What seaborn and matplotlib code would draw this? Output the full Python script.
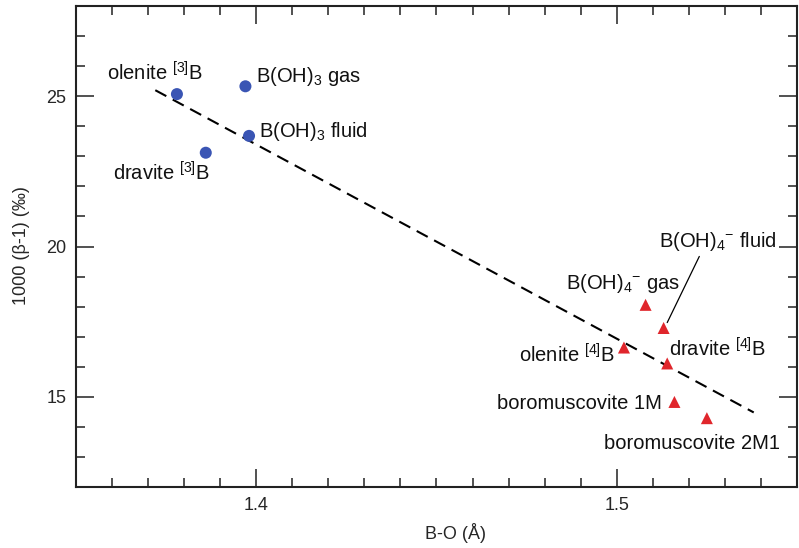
import matplotlib
matplotlib.use("Agg")
import matplotlib.pyplot as plt
from matplotlib.ticker import MultipleLocator, FixedLocator
import seaborn as sns
import pandas as pd

# ---- data ----
names = ["olenite [3]B", "B(OH)3 gas", "B(OH)3 fluid", "dravite [3]B",
         "B(OH)4- gas", "B(OH)4- fluid", "olenite [4]B", "dravite [4]B",
         "boromuscovite 1M", "boromuscovite 2M1"]
bo_length = [1.378, 1.397, 1.398, 1.386,
             1.508, 1.513, 1.502, 1.514, 1.516, 1.525]
frac = [25.07, 25.33, 23.68, 23.12,
        18.06, 17.29, 16.64, 16.11, 14.83, 14.29]
coord = ["[3]B", "[3]B", "[3]B", "[3]B",
         "[4]B", "[4]B", "[4]B", "[4]B", "[4]B", "[4]B"]

fit_x = [1.372, 1.538]
fit_y = [25.20, 14.48]

# label text (mathtext) and anchor (left-baseline) positions
label_text = [r"olenite $\mathregular{^{[3]}}$B",
              r"B(OH)$\mathregular{_3}$ gas",
              r"B(OH)$\mathregular{_3}$ fluid",
              r"dravite $\mathregular{^{[3]}}$B",
              r"B(OH)$\mathregular{_4}$$\mathregular{^{-}}$ gas",
              r"B(OH)$\mathregular{_4}$$\mathregular{^{-}}$ fluid",
              r"olenite $\mathregular{^{[4]}}$B",
              r"dravite $\mathregular{^{[4]}}$B",
              r"boromuscovite 1M",
              r"boromuscovite 2M1"]
label_x = [1.3586, 1.3999, 1.4007, 1.3602, 1.4860, 1.5118, 1.4728, 1.5145, 1.4667, 1.4965]
label_y = [25.51, 25.48, 23.64, 22.20, 18.59, 19.98, 16.14, 16.33, 14.59, 13.26]

leader_x = [1.5229, 1.5140]
leader_y = [19.67, 17.47]

df = pd.DataFrame({"name": names, "x": bo_length, "y": frac, "coord": coord})

# ---- style ----
sns.set_style("ticks")
plt.rcParams["font.family"] = ["Liberation Sans", "DejaVu Sans"]
plt.rcParams["mathtext.fontset"] = "custom"
plt.rcParams["mathtext.rm"] = "Liberation Sans"
plt.rcParams["mathtext.it"] = "Liberation Sans:italic"
plt.rcParams["mathtext.bf"] = "Liberation Sans:bold"

fig = plt.figure(figsize=(7.99, 5.48), dpi=100)
ax = fig.add_axes([0.0951, 0.1113, 0.9024, 0.8777])

# fit line
ax.plot(fit_x, fit_y, color="black", lw=1.5, ls=(0, (6, 3.5)), zorder=1)

sns.scatterplot(data=df, x="x", y="y", hue="coord", style="coord",
                palette={"[3]B": "#3a55b4", "[4]B": "#e0262c"},
                markers={"[3]B": "o", "[4]B": "^"},
                s=75, edgecolor="none", linewidth=0, legend=False, ax=ax, zorder=3)

for t, lx, ly in zip(label_text, label_x, label_y):
    ax.text(lx, ly, t, fontsize=14.5, ha="left", va="baseline", color="#111111")

ax.plot(leader_x, leader_y, color="black", lw=0.9, zorder=2)

ax.set_xlim(1.35, 1.55)
ax.set_ylim(12, 28)
ax.xaxis.set_major_locator(FixedLocator([1.4, 1.5]))
ax.xaxis.set_minor_locator(MultipleLocator(0.01))
ax.yaxis.set_major_locator(MultipleLocator(5))
ax.yaxis.set_minor_locator(MultipleLocator(1))
ax.xaxis.set_major_formatter(matplotlib.ticker.FormatStrFormatter("%.1f"))

ax.tick_params(which="both", direction="in", top=True, right=True,
               color="#222222", labelsize=13, pad=7)
ax.tick_params(which="major", length=13, width=1.1)
ax.tick_params(which="minor", length=6.5, width=1.1)
for sp in ax.spines.values():
    sp.set_linewidth(1.5)
    sp.set_color("#222222")

ax.set_xlabel("B-O (Å)", fontsize=13)
ax.set_ylabel("1000 (β-1) (‰)", fontsize=13)
ax.xaxis.set_label_coords(0.527, -0.075)
ax.yaxis.set_label_coords(-0.064, 0.501)

fig.savefig("out.png", dpi=100)
